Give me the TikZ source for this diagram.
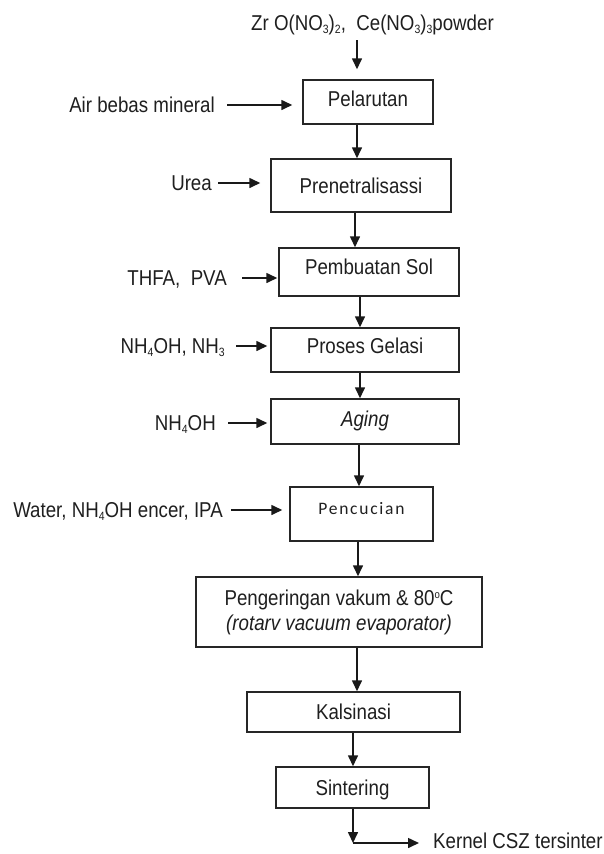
\documentclass[tikz,border=0pt]{standalone}
\usepackage{fontspec}
\setmainfont{Liberation Sans}[FakeStretch=0.87]
\newfontfamily\calfont{Carlito}[LetterSpace=10]
\usetikzlibrary{arrows.meta}
\newcommand\lowsub[1]{\raisebox{-2.5pt}{\fontsize{12}{12}\selectfont #1}}
\newcommand\degsup{\raisebox{7pt}{\fontsize{11}{11}\selectfont o}}
\begin{document}
\begin{tikzpicture}[x=1pt,y=-1pt,
  every node/.style={font=\fontsize{21.5}{25}\selectfont, text=black!88},
  box/.style={draw=black!85, line width=1.5pt, inner sep=0pt, text height=15.5pt, text depth=0pt},
  bigbox/.style={draw=black!85, line width=1.5pt, inner sep=0pt, align=center},
  lab/.style={inner sep=0pt, text height=15.5pt, text depth=0pt},
  arr/.style={draw=black!90, line width=1.6pt, -{Triangle[length=11pt,width=10pt]}},
]
\fill[white] (0,0) rectangle (604,854);
\useasboundingbox (0,0) rectangle (604,854);

% process boxes
\node[box, minimum width=130pt, minimum height=44pt] (pel) at (368,102) {\raisebox{3pt}{Pelarutan}};
\node[box, minimum width=180pt, minimum height=53pt] (pren) at (361,185.5) {Prenetralisassi};
\node[box, minimum width=180pt, minimum height=48pt] (sol) at (369,272) {\raisebox{5pt}{Pembuatan Sol}};
\node[box, minimum width=188pt, minimum height=44pt] (gel) at (365,350) {\raisebox{4pt}{Proses Gelasi}};
\node[box, minimum width=188pt, minimum height=45pt] (aging) at (365,421.5) {\raisebox{2.5pt}{\itshape Aging}};
\node[box, minimum width=143pt, minimum height=54pt, text height=11pt, font=\calfont\fontsize{17.5}{20}\selectfont] (cuci) at (361.5,514) {\raisebox{5pt}{Pencucian}};
\node[bigbox, minimum width=286pt, minimum height=70pt] (kering) at (339,612) {Pengeringan vakum \& 80\degsup C\\\textit{(rotarv vacuum evaporator)}};
\node[box, minimum width=213pt, minimum height=40pt] (kals) at (353.5,712) {Kalsinasi};
\node[box, minimum width=153pt, minimum height=41pt] (sint) at (352.5,787.5) {Sintering};

% inputs
\node[lab] (top) at (372.5,23) {Zr O(NO\lowsub{3})\lowsub{2},\ \ Ce(NO\lowsub{3})\lowsub{3}powder};
\node[lab, anchor=east] (air) at (215,105) {Air bebas mineral};
\node[lab, anchor=east] (urea) at (212,183) {Urea};
\node[lab, anchor=east] (thfa) at (227,278) {THFA,\ \ PVA};
\node[lab, anchor=east] (nh1) at (225,346) {NH\lowsub{4}OH, NH\lowsub{3}};
\node[lab, anchor=east] (nh2) at (216,423) {NH\lowsub{4}OH};
\node[lab, anchor=east] (water) at (223,510) {Water, NH\lowsub{4}OH encer, IPA};
\node[lab, anchor=west] (kernel) at (433,841) {Kernel CSZ tersinter};

% side arrows
\draw[arr] ([xshift=12pt]air.east) -- ([xshift=-10pt]pel.west |- air.east);
\draw[arr] ([xshift=6pt]urea.east) -- ([xshift=-10pt]pren.west |- urea.east);
\draw[arr] ([xshift=15pt]thfa.east) -- ([xshift=-1pt]sol.west |- thfa.east);
\draw[arr] ([xshift=11pt]nh1.east) -- ([xshift=-3pt]gel.west |- nh1.east);
\draw[arr] ([xshift=12pt]nh2.east) -- ([xshift=-3pt]aging.west |- nh2.east);
\draw[arr] ([xshift=8pt]water.east) -- ([xshift=-7pt]cuci.west |- water.east);

% main flow
\coordinate (t0) at (357,40);
\draw[arr, shorten >=10pt] (t0) -- (t0 |- pel.north);
\draw[arr] (pel.south -| t0) -- (pren.north -| t0);
\draw[arr] ([xshift=-6pt]pren.south) -- ([xshift=-6pt]pren.south |- sol.north);
\draw[arr] ([xshift=-9pt]sol.south) -- ([xshift=-9pt]sol.south |- gel.north);
\draw[arr] ([xshift=-5pt]gel.south) -- ([xshift=-5pt]gel.south |- aging.north);
\draw[arr] ([xshift=-6pt]aging.south) -- ([xshift=-6pt]aging.south |- cuci.north);
\draw[arr] ([xshift=-3.5pt]cuci.south) -- ([xshift=-3.5pt]cuci.south |- kering.north);
\draw[arr] ([xshift=18pt]kering.south) -- ([xshift=18pt]kering.south |- kals.north);
\draw[arr] ([xshift=-0.5pt]kals.south) -- ([xshift=-0.5pt]kals.south |- sint.north);
\coordinate (k) at (353,843);
\draw[arr] (sint.south -| k) -- (k);
\draw[arr] (k) -- ([xshift=-14pt]kernel.west |- k);
\end{tikzpicture}
\end{document}
